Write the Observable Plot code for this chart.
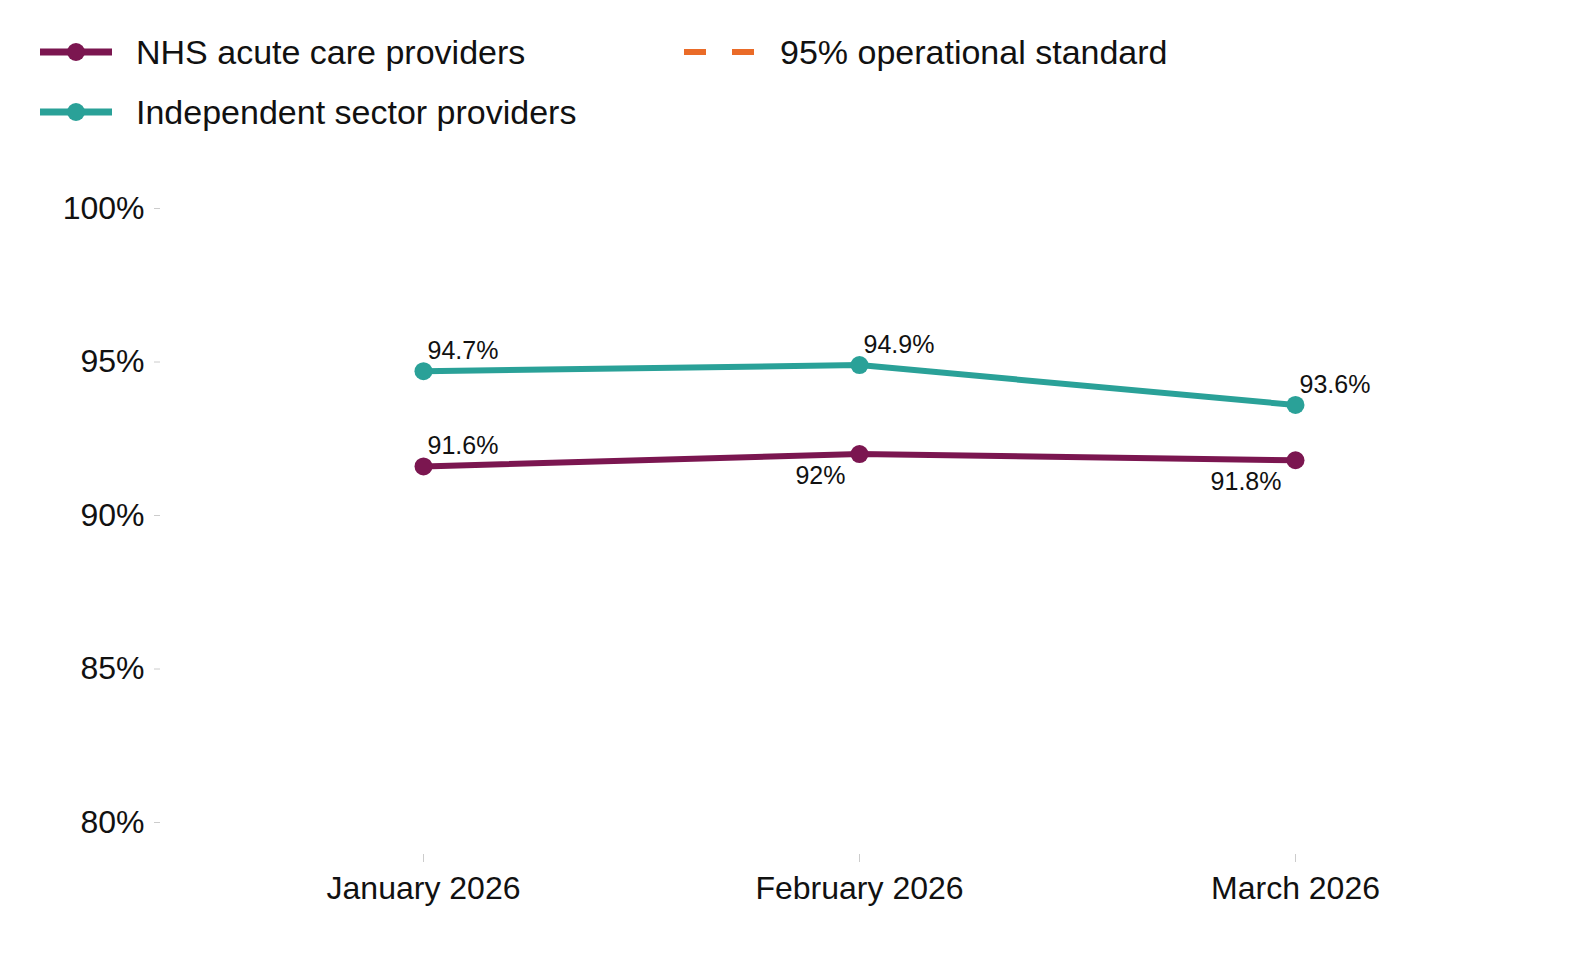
<!DOCTYPE html>
<html><head><meta charset="utf-8">
<script src="https://cdn.jsdelivr.net/npm/d3@7"></script>
<script src="https://cdn.jsdelivr.net/npm/@observablehq/plot@0.6"></script>
<style>
body{margin:0;background:#fff;font-family:"Liberation Sans",Arial,sans-serif;}
#legend{position:relative;height:150px;font-size:34px;color:#111;}
.item{position:absolute;display:flex;align-items:center;gap:22px;}
</style></head><body>
<div id="legend"></div>
<div id="chart"></div>
<script>
const months = ["January 2026","February 2026","March 2026"];
const nhs = [91.6, 92.0, 91.8];
const independent = [94.7, 94.9, 93.6];
const standard = 95;
const yTicks = [80,85,90,95,100];
const minorTicks = [82.5,87.5,92.5,97.5];
const colors = {nhs:"#7b1650", ind:"#2aa198", std:"#ea6b28"};

const leg = document.getElementById("legend");
const items = [
  {label:"NHS acute care providers", c:colors.nhs, x:38, y:52, dot:true},
  {label:"Independent sector providers", c:colors.ind, x:38, y:112, dot:true},
  {label:"95% operational standard", c:colors.std, x:682, y:52, dash:true}
];
for (const it of items) {
  const d = document.createElement("div"); d.className="item";
  d.style.left=it.x+"px"; d.style.top=(it.y-22)+"px";
  const sw = it.dash
    ? `<svg width="76" height="44"><line x1="2" x2="74" y1="22" y2="22" stroke="${it.c}" stroke-width="6" stroke-dasharray="22,26"/></svg>`
    : `<svg width="76" height="44"><line x1="2" x2="74" y1="22" y2="22" stroke="${it.c}" stroke-width="7"/><circle cx="38" cy="22" r="9" fill="${it.c}"/></svg>`;
  d.innerHTML = sw + `<span>${it.label}</span>`;
  leg.appendChild(d);
}

const data = [
  ...months.map((m,i)=>({m, v:nhs[i], s:"nhs", i})),
  ...months.map((m,i)=>({m, v:independent[i], s:"ind", i}))
];
const fmt = v => (Math.round(v*10)/10) + "%";
const above = data.filter(d => d.s==="ind" || d.i===0);
const below = data.filter(d => d.s==="nhs" && d.i>0);

const chart = Plot.plot({
  width:1574, height:810,
  marginLeft:160, marginRight:22, marginTop:58, marginBottom:138,
  style:{fontFamily:"Liberation Sans, Arial, sans-serif", fontSize:"32px", color:"#111"},
  x:{type:"point", domain:months, padding:0.6, label:null, range:[160,1558]},
  y:{domain:[80,100], label:null},
  marks:[
    Plot.ruleY(minorTicks,{x1:160, x2:1552, stroke:"#ebebeb", strokeWidth:1.2}),
    Plot.ruleY(yTicks,{x1:160, x2:1552, stroke:"#e3e3e3", strokeWidth:2}),
    Plot.axisY({ticks:yTicks, tickFormat:d=>d+"%", tickSize:6, tickPadding:10, stroke:"#ccc", fontSize:32}),
    Plot.axisX({tickSize:8, tickPadding:14, dy:32, stroke:"#ccc", fontSize:32}),
    Plot.ruleY([standard],{x1:160, x2:1552, stroke:colors.std, strokeWidth:5, strokeDasharray:"26,22"}),
    Plot.line(data,{x:"m", y:"v", z:"s", stroke:d=>colors[d.s], strokeWidth:6}),
    Plot.dot(data,{x:"m", y:"v", fill:d=>colors[d.s], r:9}),
    Plot.text(above,{x:"m", y:"v", text:d=>fmt(d.v), textAnchor:"start", dx:4, dy:-20, fontSize:25, fill:"#111"}),
    Plot.text(below,{x:"m", y:"v", text:d=>fmt(d.v), textAnchor:"end", dx:-14, dy:22, fontSize:25, fill:"#111"})
  ]
});
document.getElementById("chart").appendChild(chart);
</script>
</body></html>
